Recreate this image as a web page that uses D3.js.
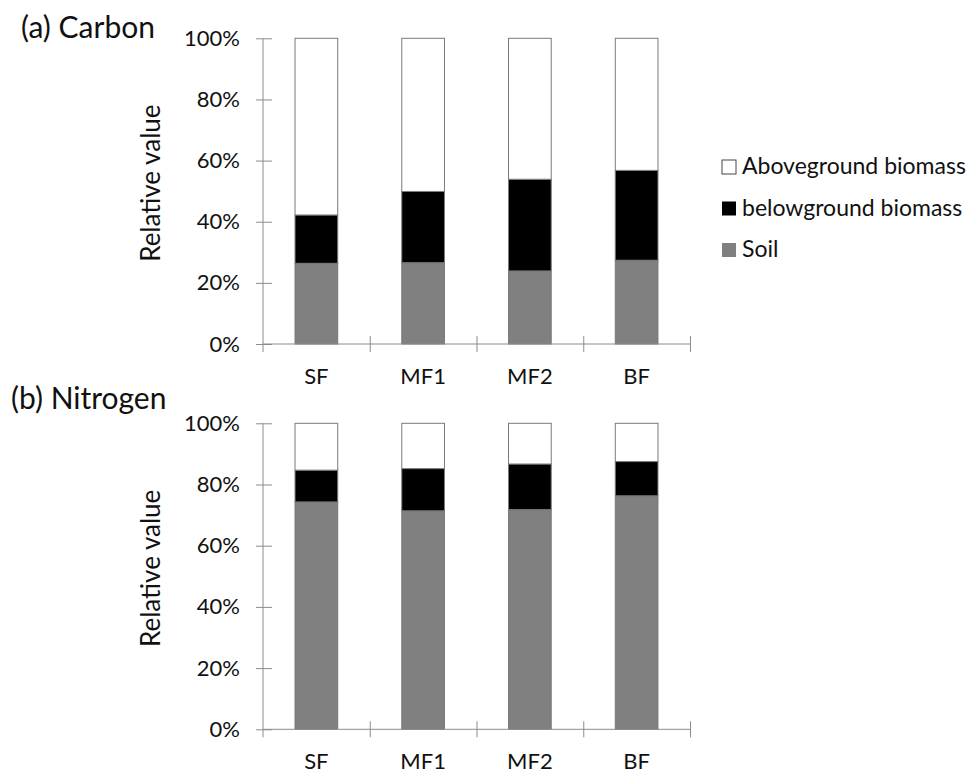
<!DOCTYPE html>
<html>
<head>
<meta charset="UTF-8">
<style>
  body { margin: 0; background: #fff; }
  svg text { font-family: Lato, "Open Sans", sans-serif; fill: #111; }
  .axis path, .axis line { stroke: #8c8c8c; }
</style>
</head>
<body>
<svg id="chart" width="974" height="775"></svg>
<script src="https://cdn.jsdelivr.net/npm/d3@7"></script>
<script>

// categories and stacked shares (% of total)
var sites = ["SF", "MF1", "MF2", "BF"];
var pools = ["Soil", "belowground biomass", "Aboveground biomass"];
var poolColors = ["#808080", "#000000", "#ffffff"];

var carbonSoil = [26.4, 26.6, 23.9, 27.4];
var carbonBelow = [15.8, 23.3, 30.0, 29.4];
var carbonAbove = [57.8, 50.1, 46.1, 43.2];

var nitrogenSoil = [74.3, 71.4, 71.8, 76.3];
var nitrogenBelow = [10.4, 13.8, 14.9, 11.2];
var nitrogenAbove = [15.3, 14.8, 13.3, 12.5];

var yTicks = [0, 20, 40, 60, 80, 100];

var svg = d3.select("#chart");

var left = 263, right = 690;

var x = d3.scaleBand().domain(sites).range([left, right])
    .paddingInner(0.6).paddingOuter(0.3);

// slot borders, where excel puts the category ticks
var xEdge = d3.scaleLinear().domain([0, sites.length]).range([left, right]);

function panel(title, soil, below, above, top, bottom, titleY) {
  var y = d3.scaleLinear().domain([0, 100]).range([bottom, top]);

  var rows = sites.map(function(s, i) {
    return {site: s, "Soil": soil[i], "belowground biomass": below[i], "Aboveground biomass": above[i]};
  });
  var series = d3.stack().keys(pools)(rows);

  var g = svg.append("g");

  // bars
  g.selectAll("g.layer")
    .data(series)
    .enter().append("g")
      .attr("class", "layer")
      .attr("fill", function(d, i) { return poolColors[i]; })
    .selectAll("rect")
    .data(function(d) { return d; })
    .enter().append("rect")
      .attr("x", function(d) { return x(d.data.site); })
      .attr("width", x.bandwidth())
      .attr("y", function(d) { return y(d[1]); })
      .attr("height", function(d) { return y(d[0]) - y(d[1]); })
      .attr("stroke", "#7a7a7a")
      .attr("stroke-width", 1);

  // y axis
  var ya = g.append("g")
      .attr("class", "axis")
      .attr("transform", "translate(" + left + ",0)")
      .call(d3.axisLeft(y).tickValues(yTicks)
        .tickFormat(function(d) { return d + "%"; })
        .tickSizeOuter(0));
  ya.select(".domain").attr("d", "M0," + (bottom + 8) + "V" + top);
  ya.selectAll(".tick line").attr("x1", -7).attr("x2", 9);
  ya.selectAll(".tick text")
      .style("font-size", "22px").attr("fill", "#111").attr("x", -23);

  // x axis: ticks on slot borders, labels centred on bars
  var xa = g.append("g")
      .attr("class", "axis")
      .attr("transform", "translate(0," + bottom + ")")
      .call(d3.axisBottom(xEdge).tickValues(d3.range(1, sites.length + 1))
        .tickFormat("").tickSizeOuter(0));
  xa.selectAll(".tick line").attr("y1", -8).attr("y2", 8);
  xa.select(".domain").attr("d", "M" + left + ",0H" + right);

  g.append("g")
      .attr("transform", "translate(0," + bottom + ")")
      .call(d3.axisBottom(x).tickSize(0).tickPadding(24))
      .call(function(a) { a.select(".domain").remove(); })
      .selectAll("text")
      .style("font-size", "22px").attr("fill", "#111");

  // y label
  g.append("text")
      .attr("transform", "translate(160," + ((top + bottom) / 2 - 8) + ") rotate(-90)")
      .attr("text-anchor", "middle")
      .style("font-size", "26px")
      .text("Relative value");

  // title
  g.append("text")
      .attr("x", title.x).attr("y", titleY)
      .style("font-size", "30px")
      .text(title.text);
}

panel({text: "(a) Carbon", x: 21}, carbonSoil, carbonBelow, carbonAbove, 38.3, 344, 38);
panel({text: "(b) Nitrogen", x: 11}, nitrogenSoil, nitrogenBelow, nitrogenAbove, 423.3, 729.3, 409);

// legend, top first like excel
var legendOrder = [2, 1, 0];
var lg = svg.append("g").attr("transform", "translate(722,160)");
var item = lg.selectAll("g")
    .data(legendOrder)
    .enter().append("g")
      .attr("transform", function(d, i) { return "translate(0," + (i * 41.5) + ")"; });
item.append("rect")
    .attr("width", 14).attr("height", 14)
    .attr("fill", function(d) { return poolColors[d]; })
    .attr("stroke", function(d) { return d === 2 ? "#444" : "none"; });
item.append("text")
    .attr("x", 20).attr("y", 14)
    .style("font-size", "23px")
    .text(function(d) { return pools[d]; });

</script>
</body>
</html>
